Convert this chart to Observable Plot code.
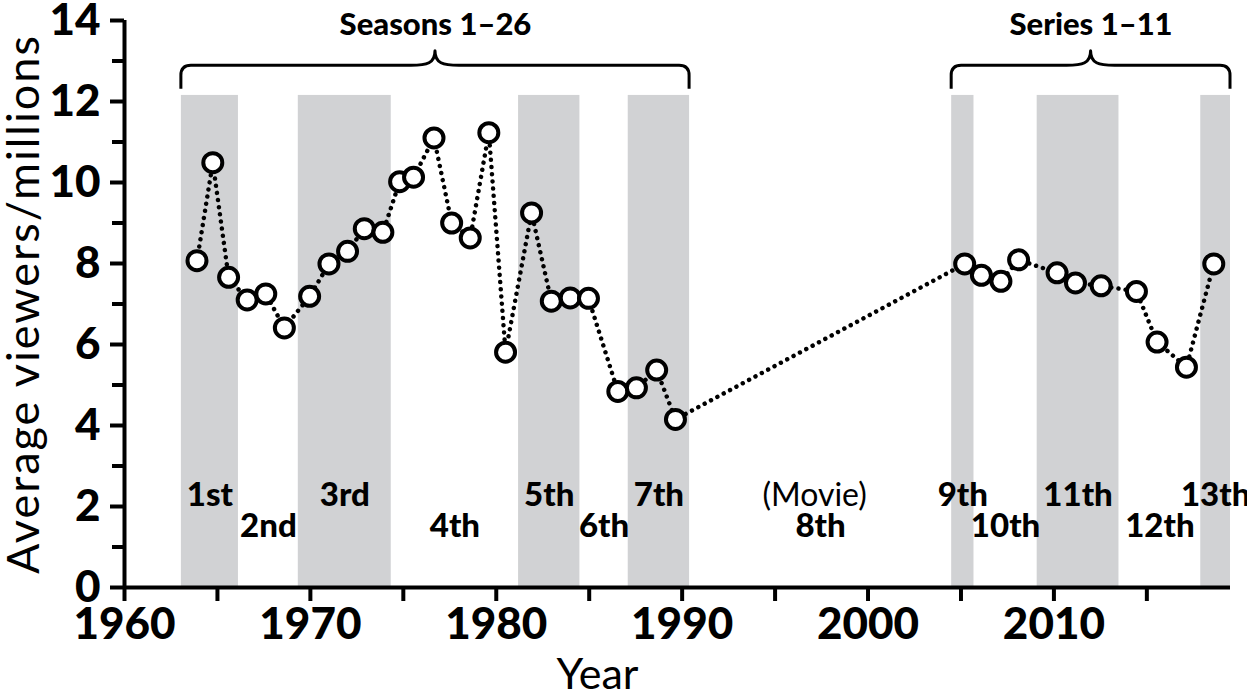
<!DOCTYPE html>
<html>
<head>
<meta charset="utf-8">
<script src="https://cdn.jsdelivr.net/npm/d3@7"></script>
<script src="https://cdn.jsdelivr.net/npm/@observablehq/plot@0.6"></script>
<style>
  html, body { margin: 0; padding: 0; background: #fff; }
  #chart svg { display: block; }
</style>
</head>
<body>
<div id="chart"></div>
<script>
// ---- data ----
const years = [1963.9, 1964.75, 1965.6, 1966.6, 1967.6, 1968.6, 1969.96, 1971.0, 1972.0, 1972.9, 1973.9,
  1974.8, 1975.55, 1976.65, 1977.6, 1978.6, 1979.6, 1980.5, 1981.9, 1982.96, 1983.98, 1984.96,
  1986.54, 1987.54, 1988.63, 1989.64,
  2005.2, 2006.1, 2007.15, 2008.1, 2010.17, 2011.16, 2012.54, 2014.44, 2015.55, 2017.13, 2018.6];
const viewers = [8.07, 10.49, 7.66, 7.10, 7.25, 6.41, 7.19, 7.99, 8.30, 8.86, 8.77,
  10.02, 10.13, 11.10, 9.00, 8.63, 11.23, 5.81, 9.25, 7.07, 7.15, 7.14,
  4.84, 4.93, 5.37, 4.15,
  7.99, 7.71, 7.56, 8.09, 7.77, 7.52, 7.45, 7.31, 6.06, 5.44, 7.99];

const doctorLabels = ["1st", "2nd", "3rd", "4th", "5th", "6th", "7th", "8th", "9th", "10th", "11th", "12th", "13th"];
const doctorStart = [1963.06, 1966.13, 1969.35, 1974.35, 1981.2, 1984.5, 1987.1, 1990.4, 2004.5, 2005.7, 2009.1, 2013.5, 2017.9];
const doctorEnd   = [1966.13, 1969.35, 1974.35, 1981.2, 1984.5, 1987.1, 1990.4, 2004.5, 2005.7, 2009.1, 2013.5, 2017.9, 2019.5];
const movieNote = "(Movie)";
const movieDoctor = 7; // index of "8th"

const braceLabels = ["Seasons 1–26", "Series 1–11"];
const braceFromDoctor = [0, 8];
const braceToDoctor = [6, 12];

const yTicks = [0, 2, 4, 6, 8, 10, 12, 14];
const yMinorTicks = [1, 3, 5, 7, 9, 11, 13];
const xTicks = [1960, 1970, 1980, 1990, 2000, 2010];
const xMinorTicks = [1965, 1975, 1985, 1995, 2005, 2015];

const xTitle = "Year";
const yTitle = "Average viewers/millions";

// ---- derived tables ----
const points = years.map((x, i) => ({x, y: viewers[i]}));
const doctors = doctorLabels.map((label, i) => ({
  label, i, x1: doctorStart[i], x2: doctorEnd[i], mid: (doctorStart[i] + doctorEnd[i]) / 2
}));
const shaded = doctors.filter(d => d.i % 2 === 0);
const row1 = doctors.filter(d => d.i % 2 === 0);
const row2 = doctors.filter(d => d.i % 2 === 1);
const braces = braceLabels.map((label, k) => ({
  label, x1: doctorStart[braceFromDoctor[k]], x2: doctorEnd[braceToDoctor[k]]
}));
braces.forEach(b => b.mid = (b.x1 + b.x2) / 2);

const BAND_TOP = 12.15;
const FONT = "Lato, 'Open Sans', sans-serif";
const HEAVY = 900;

function braceMark(data) {
  return (index, scales) => {
    const g = d3.create("svg:g").attr("aria-label", "brace");
    for (const b of data) {
      const x0 = scales.x(b.x1), x1 = scales.x(b.x2), xm = (x0 + x1) / 2;
      const yL = scales.y(12.88), yHook = scales.y(12.3), yTip = scales.y(13.24);
      const r = 10, w = 24;
      const d = `M${x0},${yHook} L${x0},${yL + r} Q${x0},${yL} ${x0 + r},${yL} ` +
        `L${xm - w},${yL} C${xm - 8},${yL} ${xm},${yL - 2} ${xm},${yTip} ` +
        `C${xm},${yL - 2} ${xm + 8},${yL} ${xm + w},${yL} ` +
        `L${x1 - r},${yL} Q${x1},${yL} ${x1},${yL + r} L${x1},${yHook}`;
      g.append("path").attr("d", d).attr("fill", "none").attr("stroke", "black")
        .attr("stroke-width", 3).attr("stroke-linejoin", "round");
    }
    return g.node();
  };
}

const fmt = d => String(d);

const chart = Plot.plot({
  width: 1247,
  height: 692,
  marginLeft: 124,
  marginRight: 17,
  marginTop: 20,
  marginBottom: 105,
  style: {fontFamily: FONT, background: "#fff", overflow: "visible", color: "#000"},
  x: {domain: [1960, 2019.5], axis: null},
  y: {domain: [0, 14], axis: null},
  marks: [
    Plot.rectY(shaded, {x1: "x1", x2: "x2", y1: 0, y2: BAND_TOP, fill: "#d1d2d4"}),
    braceMark(braces),
    Plot.text(braces, {x: "mid", y: 13.63, text: "label", lineAnchor: "bottom", fontSize: 31, fontWeight: HEAVY}),
    Plot.text(row1, {x: "mid", y: 2.02, text: "label", lineAnchor: "bottom", fontSize: 33, fontWeight: HEAVY}),
    Plot.text(row2, {x: "mid", y: 1.235, text: "label", lineAnchor: "bottom", fontSize: 33, fontWeight: HEAVY}),
    Plot.text([doctors[movieDoctor]], {x: "mid", y: 2.02, text: () => movieNote, lineAnchor: "bottom", fontSize: 32, fontWeight: "normal", dx: -6}),
    Plot.line(points, {x: "x", y: "y", stroke: "black", strokeWidth: 4.5, strokeDasharray: "0.01 7.2", strokeLinecap: "round"}),
    Plot.dot(points, {x: "x", y: "y", r: 9.5, fill: "white", stroke: "black", strokeWidth: 4}),
    Plot.axisY(yTicks, {tickSize: 14, tickPadding: 10, strokeWidth: 4, fontSize: 44, fontWeight: HEAVY, tickFormat: fmt, label: null}),
    Plot.axisY(yMinorTicks, {tickSize: 12, strokeWidth: 4, tickFormat: () => "", label: null}),
    Plot.axisX(xTicks, {tickSize: 14, tickPadding: 6, strokeWidth: 4, fontSize: 44, fontWeight: HEAVY, tickFormat: fmt, label: null}),
    Plot.axisX(xMinorTicks, {tickSize: 14, strokeWidth: 4, tickFormat: () => "", label: null}),
    Plot.ruleX([1960], {y1: 0, y2: 14, strokeWidth: 4}),
    Plot.ruleY([0], {x1: 1960, x2: 2019.5, strokeWidth: 4}),
    Plot.text([yTitle], {frameAnchor: "left", rotate: -90, textAnchor: "middle", lineAnchor: "bottom", dx: -86, fontSize: 45}),
    Plot.text([xTitle], {frameAnchor: "bottom", textAnchor: "middle", lineAnchor: "bottom", dx: -80, dy: 101, fontSize: 43})
  ]
});
// widen the y-axis title's letter spacing to match the reference's wider typeface
d3.select(chart).selectAll("text").filter(function() { return this.textContent === yTitle; })
  .style("letter-spacing", "2px");
document.getElementById("chart").appendChild(chart);
</script>
</body>
</html>
